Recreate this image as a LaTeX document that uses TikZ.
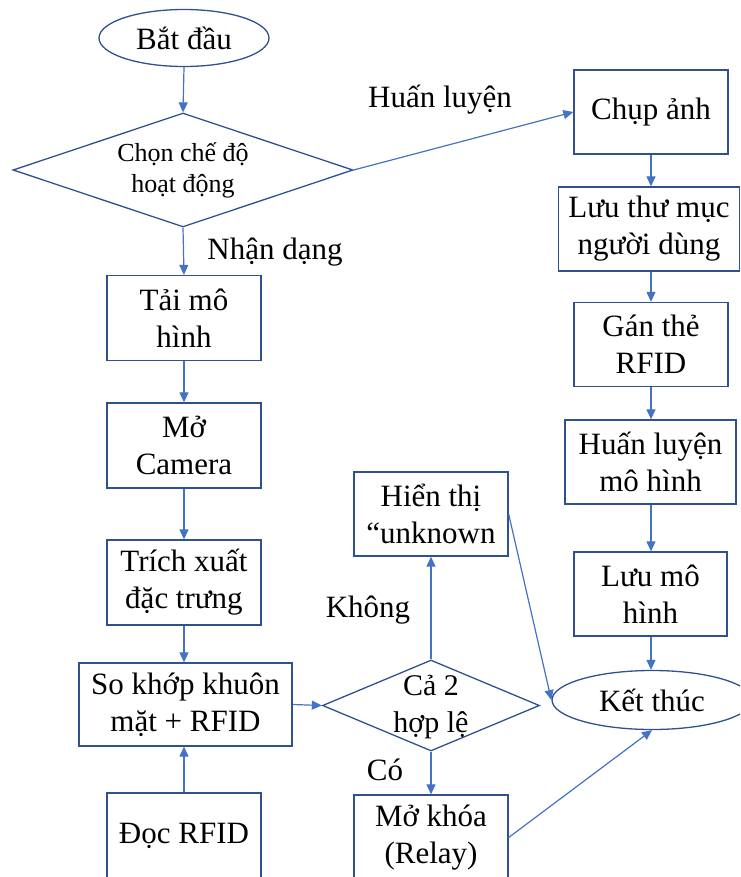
\documentclass[tikz,border=0pt]{standalone}
\usepackage{fontspec}
\setmainfont{Liberation Serif}
\usetikzlibrary{shapes.geometric,arrows.meta}
\definecolor{edgeblue}{HTML}{2F528F}
\definecolor{arrblue}{HTML}{4472C4}
\tikzset{
  boxnode/.style={draw=edgeblue, line width=1.3pt, rectangle, inner sep=0pt, align=center,
    font=\fontsize{31}{37}\selectfont},
  ovalnode/.style={draw=edgeblue, line width=1.3pt, ellipse, inner sep=0pt, align=center,
    font=\fontsize{31}{37}\selectfont},
  decnode/.style={draw=edgeblue, line width=1.3pt, diamond, inner sep=0pt},
  dectext/.style={align=center, inner sep=0pt},
  lbl/.style={font=\fontsize{31}{37}\selectfont, inner sep=0pt},
  arr/.style={draw=arrblue, line width=1.2pt, -{Triangle[length=10pt,width=9pt]}, shorten >=0pt}
}
\begin{document}
\begin{tikzpicture}[x=1pt,y=-1pt]
\useasboundingbox (0,0) rectangle (740,877);
\clip (0,0) rectangle (740,877);
% left column
\node[ovalnode, minimum width=170, minimum height=57] (start) at (184,38) {Bắt đầu};
\node[decnode, minimum width=340, minimum height=114] (mode) at (183,170) {};
\node[dectext, font=\fontsize{26}{31}\selectfont] (modet) at (mode.center) {Chọn chế độ\\hoạt động};
\node[boxnode, minimum width=154, minimum height=85] (load) at (184,318) {Tải mô\\hình};
\node[boxnode, minimum width=154, minimum height=85] (cam) at (184,445.5) {Mở\\Camera};
\node[boxnode, minimum width=154, minimum height=85] (feat) at (184,582.5) {Trích xuất\\đặc trưng};
\node[boxnode, minimum width=213, minimum height=83] (match) at (185.5,704.5) {So khớp khuôn\\mặt + RFID};
\node[boxnode, minimum width=154, minimum height=85] (read) at (184,835.5) {Đọc RFID};
% middle
\node[boxnode, minimum width=154, minimum height=84] (disp) at (431,514) {Hiển thị\\“unknown};
\node[decnode, minimum width=217, minimum height=91] (both) at (431,705.5) {};
\node[dectext, font=\fontsize{30}{37}\selectfont] (botht) at (431,707) {Cả 2\\hợp lệ};
\node[boxnode, minimum width=154, minimum height=85] (unlock) at (431,837.5) {Mở khóa\\(Relay)};
% right column
\node[boxnode, minimum width=154, minimum height=84] (cap) at (651,112) {Chụp ảnh};
\node[boxnode, minimum width=181, minimum height=84] (save) at (649,229) {Lưu thư mục\\người dùng};
\node[boxnode, minimum width=154, minimum height=84] (rfid) at (651,344.5) {Gán thẻ\\RFID};
\node[boxnode, minimum width=171, minimum height=84] (train) at (650.5,462) {Huấn luyện\\mô hình};
\node[boxnode, minimum width=153, minimum height=84] (savem) at (650.5,594) {Lưu mô\\hình};
\node[ovalnode, minimum width=200, minimum height=59] (end) at (652,700) {Kết thúc};
% labels
\node[lbl] (lhl) at (440,100) {Huấn luyện};
\node[lbl] (lnd) at (275,252) {Nhận dạng};
\node[lbl] (lkh) at (368,610) {Không};
\node[lbl] (lco) at (385,770) {Có};
% connectors
\draw[arr] (start.south) -- (mode.north);
\draw[arr] (mode.south) -- (load.north);
\draw[arr] (load.south) -- (cam.north);
\draw[arr] (cam.south) -- (feat.north);
\draw[arr] (feat.south) -- (feat.south |- match.north);
\draw[arr] (read.north) -- (read.north |- match.south);
\draw[arr] (match.east) -- (both.west);
\draw[arr] (both.north) -- (disp.south);
\draw[arr] (both.south) -- (unlock.north);
\draw[arr] (disp.east) -- (end.west);
\draw[arr] (unlock.east) -- (end.south);
\draw[arr] (mode.east) -- (cap.west);
\draw[arr] (cap.south) -- (cap.south |- save.north);
\draw[arr] (save.south -| cap.south) -- (rfid.north);
\draw[arr] (rfid.south) -- (rfid.south |- train.north);
\draw[arr] (train.south -| rfid.south) -- (rfid.south |- savem.north);
\draw[arr] (savem.south -| rfid.south) -- (rfid.south |- end.north);
\end{tikzpicture}
\end{document}
